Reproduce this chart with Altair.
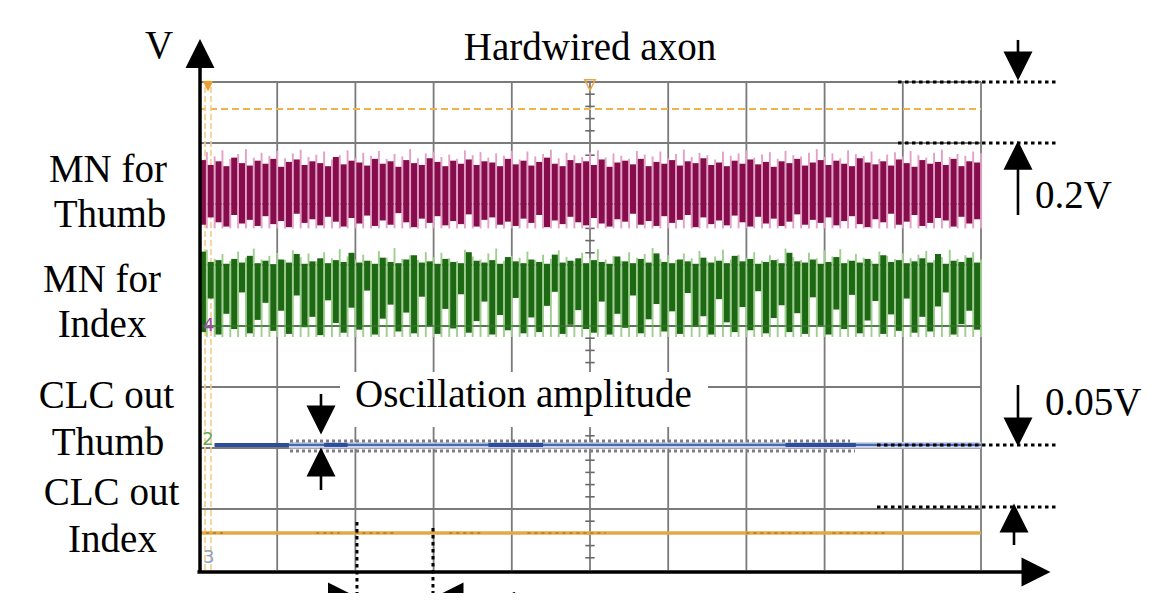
import altair as alt
import pandas as pd

W, H = 1155, 585

# ---------------- data (oscilloscope divisions: x = time div, y = div above bottom grid line)
grid_x = [1, 2, 3, 4, 5, 6, 7, 8, 9, 10]
grid_y = [1, 2, 3, 4, 5, 6, 7, 8]

# MN for Thumb (magenta) – per-sample dark body top / bottom and light spike top
mag_top = [6.72, 6.64, 6.70, 6.62, 6.76, 6.67, 6.63, 6.71, 6.66, 6.74,
           6.61, 6.69, 6.73, 6.64, 6.70, 6.67, 6.62, 6.77, 6.65, 6.71,
           6.68, 6.63, 6.74, 6.66, 6.70, 6.61, 6.72, 6.67, 6.64, 6.75,
           6.69, 6.62, 6.71, 6.66, 6.73, 6.64, 6.70, 6.68, 6.62, 6.74,
           6.65, 6.71, 6.63, 6.69, 6.76, 6.66, 6.62, 6.72, 6.67, 6.70,
           6.64, 6.73, 6.61, 6.68, 6.71, 6.65, 6.74, 6.62, 6.69, 6.66,
           6.72, 6.63, 6.70, 6.67, 6.75, 6.64, 6.68, 6.62, 6.71, 6.66,
           6.73, 6.65, 6.69, 6.61, 6.70, 6.67, 6.74, 6.63, 6.68, 6.72,
           6.64, 6.71, 6.66, 6.62, 6.75, 6.68, 6.65, 6.70, 6.63, 6.73,
           6.67, 6.61, 6.72, 6.66, 6.69, 6.64, 6.74, 6.62, 6.70, 6.68]
mag_spk = [6.85, 6.78, 6.88, 6.74, 6.82, 6.90, 6.76, 6.84, 6.79, 6.87,
           6.75, 6.83, 6.89, 6.77, 6.81, 6.86, 6.73, 6.80, 6.88, 6.76,
           6.84, 6.79, 6.87, 6.74, 6.82, 6.78, 6.90, 6.75, 6.83, 6.86,
           6.77, 6.81, 6.74, 6.88, 6.80, 6.85, 6.76, 6.83, 6.79, 6.87,
           6.73, 6.86, 6.78, 6.82, 6.89, 6.75, 6.84, 6.80, 6.77, 6.85,
           6.88, 6.76, 6.83, 6.79, 6.74, 6.87, 6.81, 6.78, 6.86, 6.75,
           6.82, 6.89, 6.77, 6.84, 6.80, 6.73, 6.86, 6.79, 6.83, 6.88,
           6.76, 6.81, 6.85, 6.74, 6.87, 6.80, 6.78, 6.84, 6.90, 6.77,
           6.83, 6.75, 6.88, 6.82, 6.79, 6.86, 6.74, 6.81, 6.85, 6.78,
           6.87, 6.80, 6.76, 6.84, 6.89, 6.77, 6.82, 6.79, 6.86, 6.83]
mag_bot = [5.66, 5.78, 5.70, 5.63, 5.82, 5.68, 5.74, 5.64, 5.80, 5.67,
           5.72, 5.62, 5.84, 5.69, 5.75, 5.65, 5.79, 5.71, 5.63, 5.77,
           5.68, 5.81, 5.64, 5.73, 5.66, 5.85, 5.70, 5.62, 5.76, 5.69,
           5.80, 5.65, 5.72, 5.67, 5.83, 5.63, 5.74, 5.78, 5.66, 5.71,
           5.64, 5.76, 5.69, 5.82, 5.62, 5.73, 5.67, 5.79, 5.70, 5.65,
           5.77, 5.68, 5.63, 5.75, 5.71, 5.84, 5.66, 5.72, 5.64, 5.80,
           5.69, 5.74, 5.82, 5.62, 5.78, 5.67, 5.73, 5.65, 5.81, 5.70,
           5.63, 5.79, 5.68, 5.76, 5.64, 5.71, 5.83, 5.66, 5.74, 5.69,
           5.78, 5.65, 5.72, 5.80, 5.67, 5.62, 5.75, 5.70, 5.84, 5.66,
           5.71, 5.82, 5.64, 5.69, 5.77, 5.73, 5.63, 5.79, 5.68, 5.75]
mag_floor = 5.60

# MN for Index (green)
grn_top = [5.22, 5.05, 5.08, 5.02, 5.10, 5.04, 5.15, 5.03, 5.07, 5.01,
           5.09, 5.04, 5.18, 5.02, 5.06, 5.11, 5.03, 5.08, 5.05, 5.20,
           5.04, 5.07, 5.02, 5.12, 5.05, 5.03, 5.09, 5.16, 5.04, 5.06,
           5.02, 5.10, 5.05, 5.03, 5.21, 5.07, 5.04, 5.08, 5.02, 5.13,
           5.06, 5.03, 5.09, 5.05, 5.02, 5.17, 5.04, 5.07, 5.11, 5.03,
           5.08, 5.05, 5.02, 5.14, 5.06, 5.03, 5.10, 5.04, 5.19, 5.05,
           5.03, 5.09, 5.06, 5.02, 5.12, 5.04, 5.07, 5.03, 5.15, 5.06,
           5.10, 5.02, 5.05, 5.08, 5.03, 5.20, 5.06, 5.04, 5.09, 5.02,
           5.05, 5.13, 5.03, 5.07, 5.04, 5.10, 5.02, 5.16, 5.05, 5.08,
           5.03, 5.06, 5.11, 5.04, 5.18, 5.02, 5.07, 5.05, 5.12, 5.04]
grn_spk = [5.25, 5.10, 5.18, 5.07, 5.22, 5.12, 5.27, 5.09, 5.15, 5.20,
           5.08, 5.24, 5.13, 5.19, 5.06, 5.21, 5.11, 5.26, 5.14, 5.09,
           5.17, 5.07, 5.23, 5.12, 5.28, 5.10, 5.16, 5.08, 5.21, 5.13,
           5.20, 5.11, 5.06, 5.25, 5.14, 5.09, 5.19, 5.27, 5.07, 5.15,
           5.12, 5.22, 5.08, 5.17, 5.10, 5.24, 5.13, 5.06, 5.20, 5.11,
           5.26, 5.09, 5.15, 5.07, 5.21, 5.12, 5.18, 5.28, 5.10, 5.16,
           5.08, 5.19, 5.11, 5.23, 5.06, 5.14, 5.25, 5.09, 5.17, 5.12,
           5.21, 5.07, 5.16, 5.10, 5.27, 5.13, 5.08, 5.20, 5.11, 5.24,
           5.14, 5.26, 5.09, 5.18, 5.12, 5.07, 5.22, 5.15, 5.10, 5.19,
           5.11, 5.17, 5.23, 5.08, 5.13, 5.25, 5.10, 5.16, 5.21, 5.09]
grn_bot = [3.90, 4.45, 3.86, 4.20, 3.95, 4.55, 3.88, 4.10, 4.38, 3.92,
           4.25, 3.87, 4.50, 3.98, 4.15, 3.85, 4.42, 4.05, 3.89, 4.30,
           3.94, 4.58, 3.86, 4.12, 4.35, 3.91, 4.22, 3.88, 4.48, 4.00,
           3.87, 4.28, 3.96, 4.52, 3.89, 4.08, 4.40, 3.86, 4.18, 3.93,
           4.46, 3.88, 4.14, 3.90, 4.33, 4.56, 3.87, 4.02, 4.26, 3.95,
           3.89, 4.40, 3.86, 4.20, 3.97, 4.50, 3.88, 4.11, 4.36, 3.91,
           4.24, 3.87, 4.54, 3.99, 4.16, 3.86, 4.44, 4.06, 3.90, 4.31,
           3.93, 4.57, 3.88, 4.13, 4.34, 3.90, 4.21, 3.87, 4.47, 4.01,
           3.86, 4.27, 3.95, 4.51, 3.88, 4.09, 4.41, 3.87, 4.19, 3.92,
           4.45, 3.89, 4.15, 3.91, 4.32, 4.55, 3.86, 4.03, 4.25, 3.94]
grn_floor = 3.82

# CLC outputs
blue_level = 2.05
blue_start = 0.2
blue_band = [1.99, 2.10]
blue_dark_x = [0.2, 1.6, 3.7, 7.5]
blue_dark_x2 = [1.15, 1.9, 4.4, 8.4]
orange_level = 0.607
orange_dark_x = [0.0, 1.5, 2.0, 3.2, 4.2, 7.0, 8.1]
orange_dark_x2 = [0.35, 1.8, 2.5, 3.6, 5.2, 7.9, 8.8]
trigger_level = 7.557

# ---------------- scales
XS = alt.Scale(domain=[-2.4425, 12.3274], nice=False, zero=False)
YS = alt.Scale(domain=[(562 - H) / 61.0, 9.213], nice=False, zero=False)


def X(f):
    return alt.X(f"{f}:Q", scale=XS, axis=None)


def Y(f):
    return alt.Y(f"{f}:Q", scale=YS, axis=None)


def vrules(df, color, width, dash=None, opacity=1.0):
    kw = dict(color=color, strokeWidth=width, clip=True, opacity=opacity)
    if dash:
        kw["strokeDash"] = dash
    return alt.Chart(df).mark_rule(**kw).encode(x=X("x"), y=Y("y"), y2=alt.Y2("y2"))


def hrules(df, color, width, dash=None, opacity=1.0):
    kw = dict(color=color, strokeWidth=width, clip=True, opacity=opacity)
    if dash:
        kw["strokeDash"] = dash
    return alt.Chart(df).mark_rule(**kw).encode(x=X("x"), x2=alt.X2("x2"), y=Y("y"))


def tri(df, shape, size=841, color="black", filled=True):
    return alt.Chart(df).mark_point(shape=shape, size=size, filled=filled, color=color,
                                    opacity=1, strokeWidth=0 if filled else 1.5,
                                    clip=True).encode(x=X("x"), y=Y("y"))


def texts(df, size=39, font="Liberation Serif", color="black", align="left"):
    return alt.Chart(df).mark_text(font=font, fontSize=size, color=color, align=align,
                                   baseline="alphabetic", clip=True).encode(
        x=X("x"), y=Y("y"), text="t:N")


TRI_UP = "M -1 1 L 1 1 L 0 -1 Z"
TRI_DOWN = "M -1 -1 L 1 -1 L 0 1 Z"
TRI_RIGHT = "M -1 -1 L 1 0 L -1 1 Z"
TRI_LEFT = "M 1 -1 L -1 0 L 1 1 Z"

t = [0.05 + 0.1 * i for i in range(len(mag_top))]

layers = []

# grid
layers.append(vrules(pd.DataFrame({"x": grid_x, "y": [0] * len(grid_x), "y2": [8] * len(grid_x)}),
                     "#7a7a7a", 1.8))
layers.append(hrules(pd.DataFrame({"x": [0] * len(grid_y), "x2": [10] * len(grid_y), "y": grid_y}),
                     "#7a7a7a", 1.8))
ticks_y = [round(0.2 * k, 2) for k in range(1, 40) if k % 5]
layers.append(hrules(pd.DataFrame({"x": [4.94] * len(ticks_y), "x2": [5.06] * len(ticks_y), "y": ticks_y}),
                     "#6a6a6a", 1.6))

# white box behind the "Oscillation amplitude" label
layers.append(alt.Chart(pd.DataFrame({"x": [1.803], "x2": [6.509], "y": [2.344], "y2": [3.246]}))
              .mark_rect(color="white", clip=True)
              .encode(x=X("x"), x2=alt.X2("x2"), y=Y("y"), y2=alt.Y2("y2")))

# trigger lines (orange dashed)
layers.append(hrules(pd.DataFrame({"x": [0], "x2": [10], "y": [trigger_level]}), "#eeb349", 1.8, [7, 4]))
layers.append(vrules(pd.DataFrame({"x": [0.077, 0.153], "y": [0, 0], "y2": [8, 8]}), "#f2cd88", 1.6, [6, 3]))
layers.append(tri(pd.DataFrame({"x": [0.115], "y": [7.93]}), TRI_DOWN, size=110, color="#ef9d2c"))
layers.append(tri(pd.DataFrame({"x": [5.0], "y": [7.95]}), TRI_DOWN, size=110, color="#e7a64a", filled=False))

# magenta trace
layers.append(vrules(pd.DataFrame({"x": [v + 0.05 for v in t], "y": [mag_floor] * len(t), "y2": mag_spk}),
                     "#e3a0c8", 1.9))
layers.append(vrules(pd.DataFrame({"x": t, "y": mag_bot, "y2": mag_top}), "#870c4b", 6.0))

# green trace
layers.append(vrules(pd.DataFrame({"x": [v + 0.05 for v in t], "y": [grn_floor] * len(t), "y2": grn_spk}),
                     "#9fcf8f", 1.9))
layers.append(vrules(pd.DataFrame({"x": t, "y": grn_bot, "y2": grn_top}), "#1d6812", 6.0))
layers.append(hrules(pd.DataFrame({"x": [0], "x2": [10], "y": [4.0]}), "#3d7a34", 1.4, opacity=0.8))

# blue CLC trace
layers.append(alt.Chart(pd.DataFrame({"x": [1.15], "x2": [10], "y": [blue_band[0]], "y2": [blue_band[1]]}))
              .mark_rect(color="#c9d4ea", clip=True)
              .encode(x=X("x"), x2=alt.X2("x2"), y=Y("y"), y2=alt.Y2("y2")))
layers.append(hrules(pd.DataFrame({"x": [blue_start], "x2": [10], "y": [blue_level]}), "#4a68b0", 2.2))
layers.append(hrules(pd.DataFrame({"x": blue_dark_x, "x2": blue_dark_x2, "y": [blue_level] * len(blue_dark_x)}),
                     "#2d4c9e", 4))

# orange CLC trace
layers.append(hrules(pd.DataFrame({"x": [0], "x2": [10], "y": [orange_level]}), "#e4a845", 3.5))
layers.append(hrules(pd.DataFrame({"x": orange_dark_x, "x2": orange_dark_x2,
                                   "y": [orange_level] * len(orange_dark_x)}), "#c08424", 2, [3, 4]))

# channel numbers
layers.append(texts(pd.DataFrame({"x": [0.051], "y": [3.918], "t": ["4"]}), size=18, font="DejaVu Sans", color="#a045a8"))
layers.append(texts(pd.DataFrame({"x": [0.040], "y": [2.049], "t": ["2"]}), size=18, font="DejaVu Sans", color="#6aa860"))
layers.append(texts(pd.DataFrame({"x": [0.051], "y": [0.115], "t": ["3"]}), size=18, font="DejaVu Sans", color="#8ea4c6"))

# dotted guides
layers.append(hrules(pd.DataFrame({"x": [8.939, 8.939, 8.670, 8.670], "x2": [10.985] * 4,
                                   "y": [8.0, 7.0, 2.049, 1.033]}), "black", 3, [3.5, 3.5]))
layers.append(hrules(pd.DataFrame({"x": [1.164, 1.164], "x2": [8.325, 8.389], "y": [2.115, 1.951]}),
                     "#7d7d7d", 3, [3, 3]))
layers.append(vrules(pd.DataFrame({"x": [2.020, 2.992], "y": [0.787, 0.689], "y2": [-0.7, -0.7]}),
                     "black", 3, [3.5, 3.5]))

# axes
layers.append(vrules(pd.DataFrame({"x": [0.013], "y": [-0.033], "y2": [8.45]}), "black", 3.5))
layers.append(hrules(pd.DataFrame({"x": [-0.02], "x2": [10.6], "y": [-0.033]}), "black", 3.5))

# arrow shafts
layers.append(vrules(pd.DataFrame({"x": [10.473, 10.473, 10.473, 10.422, 1.560, 1.560],
                                   "y": [8.689, 6.721, 3.033, 0.738, 2.885, 1.639],
                                   "y2": [8.361, 5.820, 2.459, 0.410, 2.623, 1.311]}), "black", 2.6))
layers.append(hrules(pd.DataFrame({"x": [1.292, 3.376], "x2": [1.70, 3.683], "y": [-0.443, -0.443]}),
                     "black", 2.6))

# arrow heads
layers.append(tri(pd.DataFrame({"x": [0.013, 10.473, 10.422, 1.560], "y": [8.467, 6.80, 0.852, 1.770]}), TRI_UP))
layers.append(tri(pd.DataFrame({"x": [10.473, 10.473, 1.560], "y": [8.262, 2.262, 2.459]}), TRI_DOWN))
layers.append(tri(pd.DataFrame({"x": [10.703, 1.835], "y": [-0.033, -0.443]}), TRI_RIGHT))
layers.append(tri(pd.DataFrame({"x": [3.197], "y": [-0.443]}), TRI_LEFT))

# labels
left_labels = ["MN for", "Thumb", "MN for", "Index", "CLC out", "Thumb", "CLC out", "Index"]
left_x = [-1.164, -1.138, -1.240, -1.240, -1.183, -1.164, -1.119, -1.106]
left_y = [6.361, 5.623, 4.557, 3.820, 2.656, 1.885, 1.066, 0.295]
layers.append(texts(pd.DataFrame({"x": left_x, "y": left_y, "t": left_labels}), align="center"))

ann_text = ["V", "Oscillation amplitude", "0.2V", "0.05V", "1"]
ann_x = [-0.691, 1.995, 10.691, 10.818, 3.887]
ann_y = [8.393, 2.672, 5.934, 2.541, -0.787]
layers.append(texts(pd.DataFrame({"x": ann_x, "y": ann_y, "t": ann_text})))
layers.append(texts(pd.DataFrame({"x": [5.0], "y": [8.361], "t": ["Hardwired axon"]}), align="center"))

chart = alt.layer(*layers).properties(
    width=W, height=H,
    autosize=alt.AutoSizeParams(type="fit", contains="padding"),
    padding=0, background="white",
).configure_view(stroke=None)

chart.save("out.html", embed_options={"renderer": "svg", "actions": False})
